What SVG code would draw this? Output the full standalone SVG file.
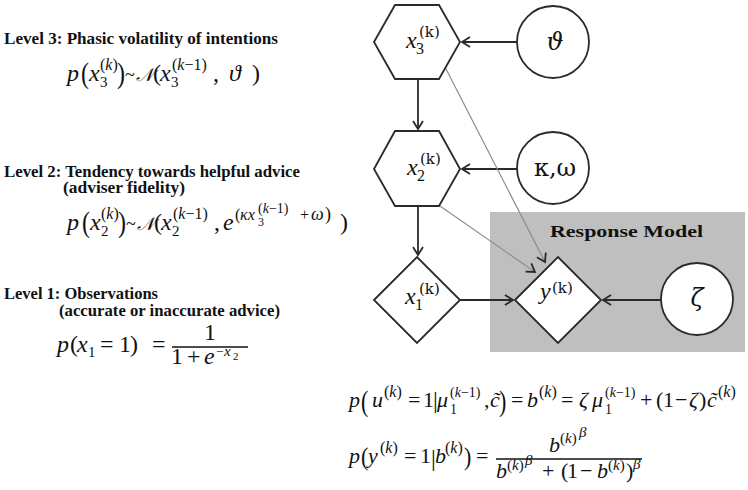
<svg xmlns="http://www.w3.org/2000/svg" width="748" height="490" viewBox="0 0 748 490">
<defs>
<style>
.lbl{font-family:"Liberation Serif",serif;font-weight:bold;font-size:16px;fill:#111}
.m{font-family:"Liberation Serif","DejaVu Serif",serif;font-size:24px;fill:#111}
.mb{font-family:"Liberation Serif","DejaVu Serif",serif;font-size:22px;fill:#111}
.i{font-style:italic}
.nk{font-family:"DejaVu Serif",serif;font-size:15px;font-style:normal}
.node{fill:#fff;stroke:#2a2a2a;stroke-width:1.8}
.edge{stroke:#2a2a2a;stroke-width:1.8;fill:none}
.thin{stroke:#8c8c8c;stroke-width:1.2;fill:none}
.gk{font-family:"DejaVu Serif","Liberation Serif",serif;font-size:24px;fill:#111;text-anchor:middle}
</style>
<marker id="ah" viewBox="-10 -6 12 12" refX="0" refY="0" markerWidth="12" markerHeight="12" markerUnits="userSpaceOnUse" orient="auto">
<path d="M-8,-5 L0,0 L-8,5" fill="none" stroke="#2a2a2a" stroke-width="1.8"/>
</marker>
</defs>
<rect width="748" height="490" fill="#fff"/>

<g id="response-model">
<rect x="490" y="212" width="255" height="140" fill="#bfbfbf"/>
<text class="lbl" x="550" y="237" font-size="19" textLength="153" lengthAdjust="spacingAndGlyphs">Response Model</text>
</g>

<g id="connectors">
<line class="edge" x1="517" y1="42" x2="462" y2="42" marker-end="url(#ah)"/>
<line class="edge" x1="517" y1="169" x2="462" y2="169" marker-end="url(#ah)"/>
<line class="edge" x1="418" y1="79" x2="418" y2="129" marker-end="url(#ah)"/>
<line class="edge" x1="418" y1="206" x2="418" y2="255" marker-end="url(#ah)"/>
<line class="edge" x1="460" y1="300" x2="513" y2="300" marker-end="url(#ah)"/>
<line class="edge" x1="662" y1="300" x2="603" y2="300" marker-end="url(#ah)"/>
<line class="thin" x1="445" y1="67" x2="545" y2="262" marker-end="url(#ah)"/>
<line class="thin" x1="440" y1="206" x2="535" y2="272" marker-end="url(#ah)"/>
</g>

<g id="x3">
<polygon class="node" points="374,42 395,5 439,5 460,42 439,79 395,79"/>
<text class="m" font-size="23"><tspan class="i" x="406" y="48">x</tspan><tspan x="416" y="54" font-size="16">3</tspan><tspan class="nk" x="419" y="37">(k)</tspan></text>
</g>
<g id="theta">
<circle class="node" cx="553" cy="42" r="36"/>
<text class="gk i" x="555" y="50">ϑ</text>
</g>
<g id="x2">
<polygon class="node" points="374,169 395,131 439,131 460,169 439,206 395,206"/>
<text class="m" font-size="23"><tspan class="i" x="407" y="175">x</tspan><tspan x="417" y="181" font-size="16">2</tspan><tspan class="nk" x="420" y="164">(k)</tspan></text>
</g>
<g id="kappa-omega">
<circle class="node" cx="553" cy="168" r="36"/>
<text class="gk" x="555" y="176" font-size="22">κ,ω</text>
</g>
<g id="x1">
<polygon class="node" points="374,300 417,257 460,300 417,343"/>
<text class="m" font-size="23"><tspan class="i" x="405" y="304">x</tspan><tspan x="415" y="310" font-size="16">1</tspan><tspan class="nk" x="419" y="294">(k)</tspan></text>
</g>
<g id="y">
<polygon class="node" points="515,300 558,257 601,300 558,343"/>
<text class="m" font-size="23"><tspan class="i" x="540" y="299">y</tspan><tspan class="nk" x="552" y="293">(k)</tspan></text>
</g>
<g id="zeta">
<circle class="node" cx="697" cy="299" r="36"/>
<text class="gk i" x="697" y="306" font-size="28">ζ</text>
</g>

<g id="level3">
<text class="lbl" x="4" y="44" textLength="274" lengthAdjust="spacingAndGlyphs">Level 3: Phasic volatility of intentions</text>
<text class="m" transform="translate(81,83) scale(1,1.24)">(</text>
<text class="m" transform="translate(117,83) scale(1,1.24)">)</text>
<text class="m">
<tspan class="i" x="67" y="81">p</tspan><tspan class="i" x="89" y="81">x</tspan><tspan x="100" y="87" font-size="15">3</tspan><tspan x="100" y="70" font-size="16">(<tspan class="i">k</tspan>)</tspan><tspan x="125" y="81" font-size="18">~</tspan><tspan class="i" x="136" y="81" font-size="18">𝒩</tspan><tspan x="153" y="81">(</tspan><tspan class="i" x="160" y="81">x</tspan><tspan x="171" y="87" font-size="15">3</tspan><tspan x="172" y="70" font-size="16">(<tspan class="i">k</tspan>−1)</tspan><tspan x="213" y="81">,</tspan><tspan class="i" x="229" y="81">ϑ</tspan><tspan x="252" y="81">)</tspan>
</text>
</g>

<g id="level2">
<text class="lbl" x="4" y="177" textLength="296" lengthAdjust="spacingAndGlyphs">Level 2: Tendency towards helpful advice</text>
<text class="lbl" x="63" y="193" textLength="122" lengthAdjust="spacingAndGlyphs">(adviser fidelity)</text>
<text class="m" transform="translate(82,232) scale(1,1.24)">(</text>
<text class="m" transform="translate(118,232) scale(1,1.24)">)</text>
<text class="m">
<tspan class="i" x="67" y="230">p</tspan><tspan class="i" x="90" y="230">x</tspan><tspan x="101" y="236" font-size="15">2</tspan><tspan x="101" y="219" font-size="16">(<tspan class="i">k</tspan>)</tspan><tspan x="126" y="230" font-size="18">~</tspan><tspan class="i" x="137" y="230" font-size="18">𝒩</tspan><tspan x="154" y="230">(</tspan><tspan class="i" x="161" y="230">x</tspan><tspan x="172" y="236" font-size="15">2</tspan><tspan x="173" y="219" font-size="16">(<tspan class="i">k</tspan>−1)</tspan><tspan x="214" y="230">,</tspan><tspan class="i" x="223" y="230">e</tspan><tspan x="235" y="220" font-size="16">(</tspan><tspan class="i" x="240" y="220" font-size="16">κx</tspan><tspan x="258" y="226" font-size="12">3</tspan><tspan x="258" y="213" font-size="14">(<tspan class="i">k</tspan>−1)</tspan><tspan x="300" y="220" font-size="16">+</tspan><tspan class="i" x="311" y="220" font-size="18">ω</tspan><tspan x="325" y="220" font-size="18">)</tspan><tspan x="340" y="230">)</tspan>
</text>
</g>

<g id="level1">
<text class="lbl" x="4" y="299" textLength="154" lengthAdjust="spacingAndGlyphs">Level 1: Observations</text>
<text class="lbl" x="59" y="316" textLength="221" lengthAdjust="spacingAndGlyphs">(accurate or inaccurate advice)</text>
<text class="m">
<tspan class="i" x="57" y="352">p</tspan><tspan x="70" y="352">(</tspan><tspan class="i" x="77" y="352">x</tspan><tspan x="88" y="357" font-size="15">1</tspan><tspan x="100" y="352">=</tspan><tspan x="119" y="352">1</tspan><tspan x="130" y="352">)</tspan><tspan x="152" y="352">=</tspan>
<tspan x="204" y="340">1</tspan>
<tspan x="171" y="364">1</tspan><tspan x="187" y="364">+</tspan><tspan class="i" x="204" y="364">e</tspan><tspan x="216" y="356" font-size="13">−</tspan><tspan class="i" x="224" y="356" font-size="15">x</tspan><tspan x="233" y="360" font-size="11">2</tspan>
</text>
<line x1="172" y1="347" x2="248" y2="347" stroke="#111" stroke-width="1.3"/>
</g>

<g id="response-equations">
<text class="mb" transform="translate(361,411) scale(1,1.3)">(</text>
<text class="mb" transform="translate(499,411) scale(1,1.3)">)</text>
<text class="mb">
<tspan class="i" x="349" y="407">p</tspan><tspan class="i" x="372" y="407">u</tspan><tspan x="384" y="397" font-size="16">(<tspan class="i">k</tspan>)</tspan><tspan x="408" y="407">=</tspan><tspan x="423" y="407">1</tspan><tspan x="433" y="408" font-size="24">|</tspan><tspan class="i" x="437" y="407">μ</tspan><tspan x="450" y="414" font-size="14">1</tspan><tspan x="450" y="397" font-size="14">(<tspan class="i">k</tspan>−1)</tspan><tspan x="484" y="407">,</tspan><tspan class="i" x="490" y="407">c̃</tspan><tspan x="511" y="407">=</tspan><tspan class="i" x="527" y="407">b</tspan><tspan x="539" y="397" font-size="16">(<tspan class="i">k</tspan>)</tspan><tspan x="561" y="407">=</tspan><tspan class="i" x="579" y="407">ζ</tspan><tspan class="i" x="592" y="407">μ</tspan><tspan x="605" y="414" font-size="14">1</tspan><tspan x="605" y="397" font-size="14">(<tspan class="i">k</tspan>−1)</tspan><tspan x="640" y="407">+</tspan><tspan x="656" y="407">(</tspan><tspan x="663" y="407">1</tspan><tspan x="675" y="407">−</tspan><tspan class="i" x="689" y="407">ζ</tspan><tspan x="699" y="407">)</tspan><tspan class="i" x="707" y="407">c̃</tspan><tspan x="718" y="397" font-size="16">(<tspan class="i">k</tspan>)</tspan>
</text>
<text class="mb" transform="translate(361,465) scale(1,1.15)">(</text>
<text class="mb" transform="translate(464,465) scale(1,1.15)">)</text>
<text class="mb">
<tspan class="i" x="349" y="463">p</tspan><tspan class="i" x="368" y="463">y</tspan><tspan x="380" y="453" font-size="16">(<tspan class="i">k</tspan>)</tspan><tspan x="404" y="463">=</tspan><tspan x="420" y="463">1</tspan><tspan x="431" y="466" font-size="24">|</tspan><tspan class="i" x="435" y="463">b</tspan><tspan x="445" y="453" font-size="16">(<tspan class="i">k</tspan>)</tspan><tspan x="476" y="463">=</tspan>
<tspan class="i" x="549" y="452">b</tspan><tspan x="560" y="443" font-size="15">(<tspan class="i">k</tspan>)</tspan><tspan class="i" x="579" y="437" font-size="15">β</tspan>
<tspan class="i" x="496" y="478">b</tspan><tspan x="507" y="470" font-size="15">(<tspan class="i">k</tspan>)</tspan><tspan class="i" x="525" y="465" font-size="15">β</tspan><tspan x="542" y="478">+</tspan><tspan x="561" y="478">(</tspan><tspan x="567" y="478">1</tspan><tspan x="580" y="478">−</tspan><tspan class="i" x="597" y="478">b</tspan><tspan x="608" y="470" font-size="15">(<tspan class="i">k</tspan>)</tspan><tspan x="626" y="478">)</tspan><tspan class="i" x="633" y="469" font-size="15">β</tspan>
</text>
<line x1="496" y1="459" x2="642" y2="459" stroke="#111" stroke-width="1.3"/>
</g>
</svg>
